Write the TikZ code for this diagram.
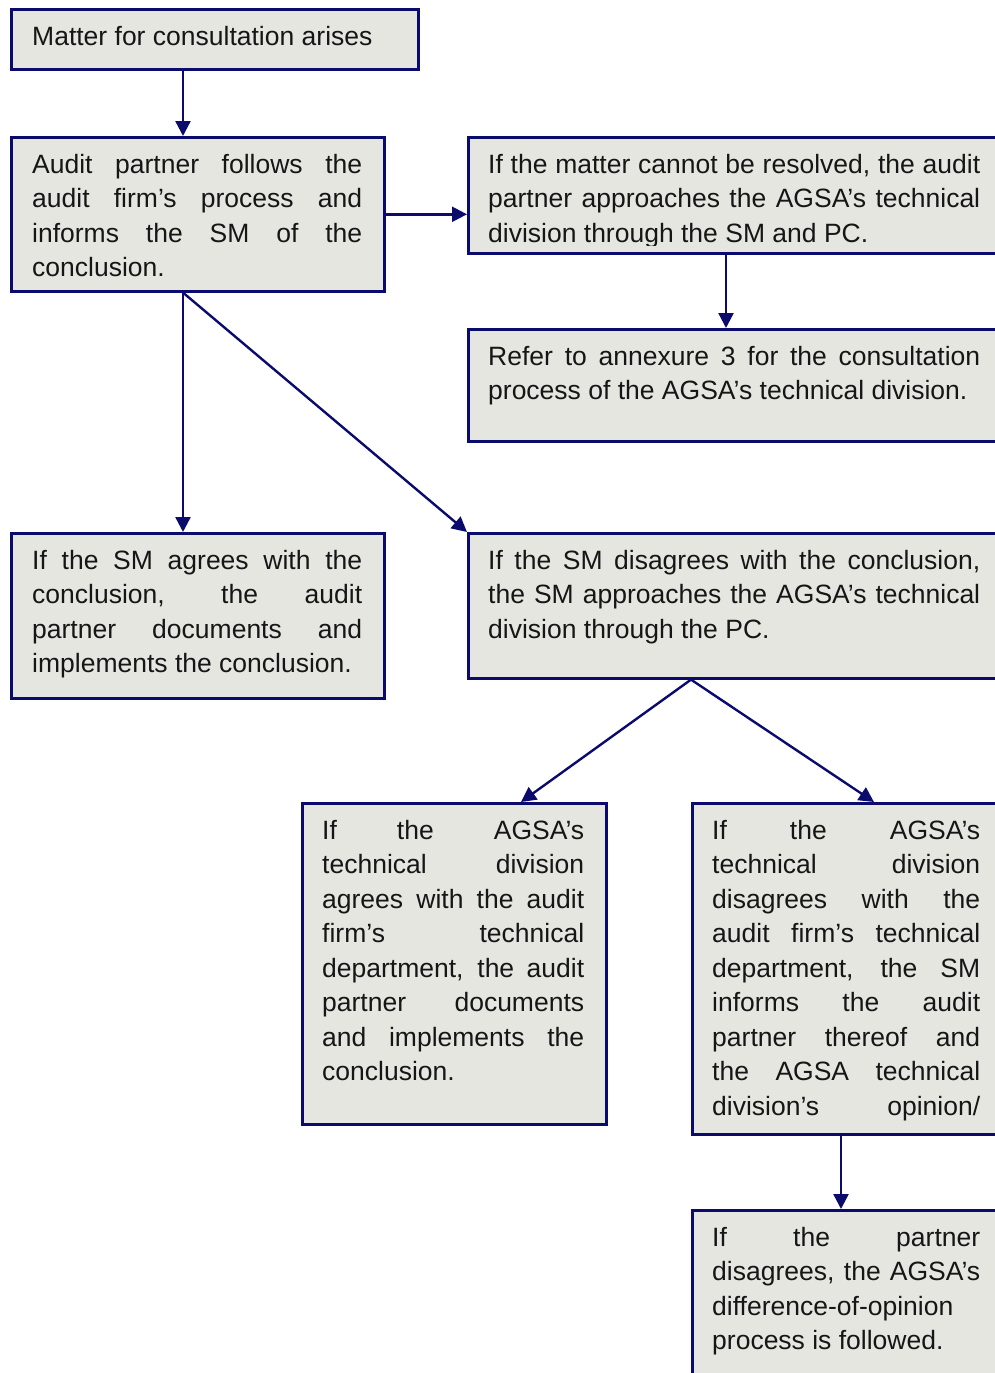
\documentclass[tikz,border=0pt]{standalone}
\usepackage{fontspec}
\setmainfont{Liberation Sans}
\usetikzlibrary{arrows.meta,calc}
\definecolor{navy}{HTML}{0B0B6E}
\definecolor{boxfill}{HTML}{E6E6E1}
\definecolor{ink}{HTML}{161616}
\newcommand\JL[1]{\hbox to\hsize{#1}}
\newcommand\NL[1]{\hbox{#1}}
\newcommand\TB[2]{\vtop{\hsize=#1pt\baselineskip=34.5pt\lineskiplimit=-20pt #2}}
\tikzset{
  box/.style={draw=navy, line width=2.6pt, fill=boxfill, rectangle, inner sep=0pt, anchor=north west},
  txt/.style={inner sep=0pt, anchor=base west, text=ink, font=\fontsize{26.5}{34.5}\selectfont},
  arr/.style={draw=navy, line width=2.4pt, -{Triangle[length=15pt,width=15pt]}}
}
\begin{document}
\begin{tikzpicture}[x=1pt,y=-1pt]
\useasboundingbox (0,0) rectangle (995,1373);
\clip (0,0) rectangle (995,1373);
\fill[white] (0,0) rectangle (995,1373);
% boxes
\node[box, minimum width=407pt, minimum height=60pt] (A) at (10,8) {};
\node[box, minimum width=373pt, minimum height=154pt] (B) at (10,136) {};
\node[box, minimum width=543pt, minimum height=116pt] (C) at (467,136) {};
\node[box, minimum width=543pt, minimum height=112pt] (D) at (467,328) {};
\node[box, minimum width=373pt, minimum height=165pt] (E) at (10,532) {};
\node[box, minimum width=543pt, minimum height=145pt] (F) at (467,532) {};
\node[box, minimum width=304pt, minimum height=321pt] (G) at (301,802) {};
\node[box, minimum width=319pt, minimum height=331pt] (H) at (691,802) {};
\node[box, minimum width=319pt, minimum height=200pt] (I) at (691,1209) {};
% texts
\node[txt] (At) at (32,45) {\TB{380}{\NL{Matter for consultation arises}}};
\node[txt] (Bt) at (32,173) {\TB{330}{\JL{Audit partner follows the}\JL{audit firm’s process and}\JL{informs the SM of the}\NL{conclusion.}}};
\begin{scope}
\clip (467,137) rectangle (1010,245.5);
\node[txt] (Ct) at (488,173) {\TB{492}{\JL{If the matter cannot be resolved, the audit}\JL{partner approaches the AGSA’s technical}\NL{division through the SM and PC.}}};
\end{scope}
\node[txt] (Dt) at (488,365) {\TB{492}{\JL{Refer to annexure 3 for the consultation}\NL{process of the AGSA’s technical division.}}};
\node[txt] (Et) at (32,569) {\TB{330}{\JL{If the SM agrees with the}\JL{conclusion, the audit}\JL{partner documents and}\NL{implements the conclusion.}}};
\node[txt] (Ft) at (488,569) {\TB{492}{\JL{If the SM disagrees with the conclusion,}\JL{the SM approaches the AGSA’s technical}\NL{division through the PC.}}};
\node[txt] (Gt) at (322,839) {\TB{262}{\JL{If the AGSA’s}\JL{technical division}\JL{agrees with the audit}\JL{firm’s technical}\JL{department, the audit}\JL{partner documents}\JL{and implements the}\NL{conclusion.}}};
\node[txt] (Ht) at (712,839) {\TB{268}{\JL{If the AGSA’s}\JL{technical division}\JL{disagrees with the}\JL{audit firm’s technical}\JL{department, the SM}\JL{informs the audit}\JL{partner thereof and}\JL{the AGSA technical}\JL{division’s opinion/}}};
\node[txt] (It) at (712,1246) {\TB{268}{\JL{If the partner}\JL{disagrees, the AGSA’s}\NL{difference-of-opinion}\NL{process is followed.}}};
% connector points
\coordinate (a1) at ([xshift=173pt]A.south west);
\coordinate (b1) at ([xshift=173pt]B.south west);
\coordinate (c1) at ([xshift=259pt]C.south west);
\coordinate (f1) at ([xshift=224pt]F.south west);
\coordinate (g1) at ([xshift=220pt]G.north west);
\coordinate (h2) at ([xshift=183pt]H.north west);
\coordinate (h1) at ([xshift=150pt]H.south west);
% connectors
\draw[arr] (a1) -- (a1 |- B.north);
\draw[arr] (B.east) -- (B.east -| C.west);
\draw[arr] (c1) -- (c1 |- D.north);
\draw[arr] (b1) -- (b1 |- E.north);
\draw[arr] (b1) -- (F.north west);
\draw[arr] (f1) -- (g1);
\draw[arr] (f1) -- (h2);
\draw[arr] (h1) -- (h1 |- I.north);
\end{tikzpicture}
\end{document}
